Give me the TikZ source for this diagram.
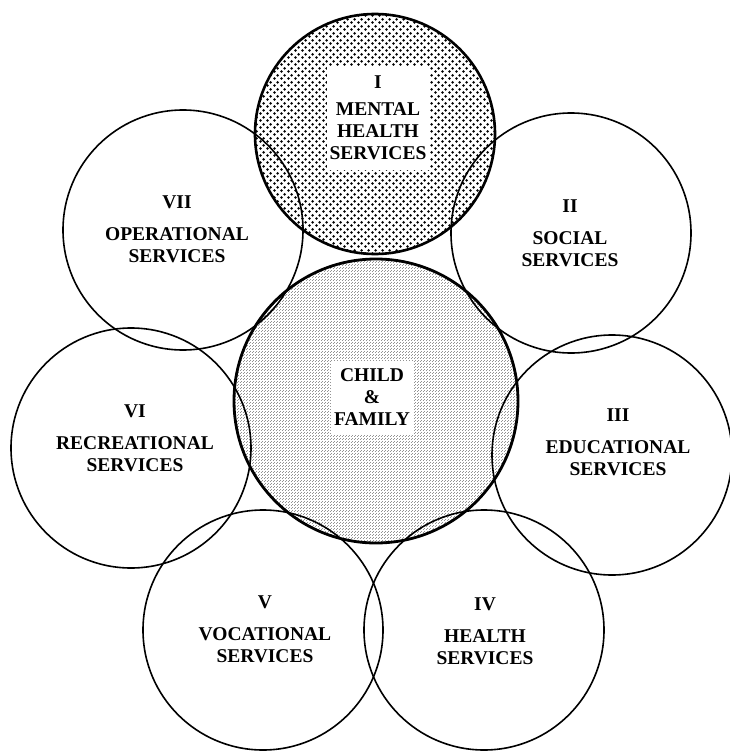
\documentclass[tikz,border=0pt]{standalone}
\usepackage{fontspec}
\setmainfont{Liberation Serif}
\usetikzlibrary{patterns.meta}

% coarse dots for the mental health circle
\tikzdeclarepattern{
  name=coarsedots,
  type=uncolored,
  bounding box={(0pt,0pt) and (7pt,7pt)},
  tile size={(7pt,7pt)},
  code={
    \fill (1.75pt,1.75pt) circle (1.6pt);
    \fill (5.25pt,5.25pt) circle (1.6pt);
  }
}
% fine stipple for the child & family circle
\tikzdeclarepattern{
  name=finestipple,
  type=uncolored,
  bounding box={(0pt,0pt) and (3pt,3pt)},
  tile size={(3pt,3pt)},
  code={
    \fill (0pt,0pt) rectangle (0.8pt,0.8pt);
    \fill (1.5pt,1.5pt) rectangle (2.3pt,2.3pt);
  }
}

\tikzset{
  svc/.style={circle, draw, line width=1.6pt, minimum size=240pt, inner sep=0pt},
  hub/.style={svc, line width=2.8pt, minimum size=284pt},
  svctext/.style={align=center, font=\fontsize{19.5}{22}\selectfont\bfseries},
  whitebox/.style={svctext, fill=white, inner sep=0pt}
}

\begin{document}
\begin{tikzpicture}[x=1pt, y=-1pt]
    \useasboundingbox (0,0) rectangle (730,752);

    % shaded circles
    \node[hub, pattern=finestipple] (family) at (376,401) {};
    \node[svc, line width=2.6pt, pattern=coarsedots] (mental) at (375,134) {};

    % service circles
    \node[svc] (social) at (571,233) {};
    \node[svc] (educational) at (612,455) {};
    \node[svc] (health) at (484,630) {};
    \node[svc] (vocational) at (263,630) {};
    \node[svc] (recreational) at (131,448) {};
    \node[svc] (operational) at (183,230) {};

    % labels
    \node[whitebox, minimum width=103pt, minimum height=103pt] (mentaltext) at (378,118) {I\\[5pt]MENTAL\\HEALTH\\SERVICES};
    \node[whitebox, minimum width=83pt, minimum height=73pt] (familytext) at (372,397) {CHILD\\\&\\FAMILY};
    \node[svctext] (socialtext) at (570,233) {II\\[10pt]SOCIAL\\SERVICES};
    \node[svctext] (educationaltext) at (618,442) {III\\[10pt]EDUCATIONAL\\SERVICES};
    \node[svctext] (healthtext) at (485,631) {IV\\[10pt]HEALTH\\SERVICES};
    \node[svctext] (vocationaltext) at (265,629) {V\\[10pt]VOCATIONAL\\SERVICES};
    \node[svctext] (recreationaltext) at (135,438) {VI\\[10pt]RECREATIONAL\\SERVICES};
    \node[svctext] (operationaltext) at (177,229) {VII\\[10pt]OPERATIONAL\\SERVICES};
\end{tikzpicture}
\end{document}
